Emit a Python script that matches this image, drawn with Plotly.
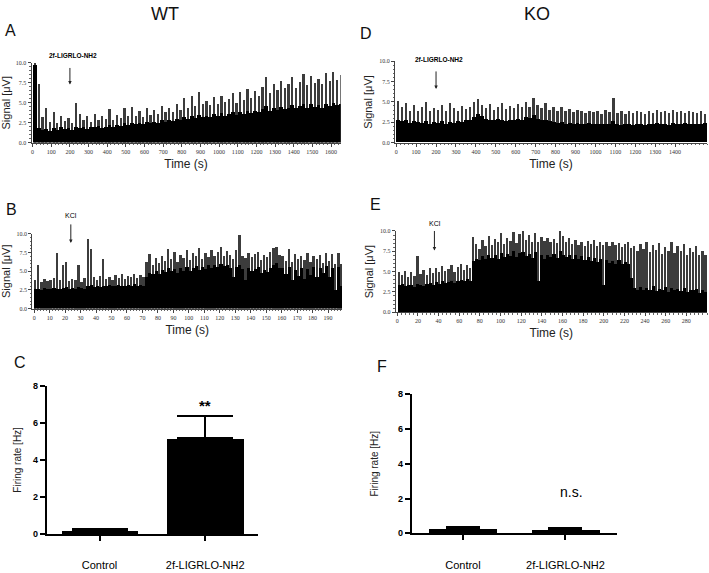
import plotly.graph_objects as go

W, H = 709, 573

# ---------------- data ----------------
# Panel A (WT, 2f-LIGRLO-NH2), 20 s bins
A_bin = 20
A_peak = [10.0, 7.3,
          3.2, 4.3, 2.6, 3.9, 2.4, 3.4, 2.7, 3.1, 2.5, 5.0,
          3.6, 2.8, 3.3, 2.6, 3.6, 2.9, 3.4, 3.0, 4.2, 2.9,
          3.5, 3.1, 4.4, 3.3, 4.5, 3.4, 4.0, 3.2, 4.3, 3.5,
          4.1, 3.6, 4.6, 3.8, 4.4, 3.9, 4.8, 4.1, 5.6, 4.3,
          5.8, 4.6, 6.3, 4.9, 5.2, 4.7, 5.7, 4.8, 5.9, 5.1,
          5.5, 6.2, 5.0, 6.4, 5.4, 6.7, 5.6, 6.5, 5.8, 7.0,
          8.3, 6.2, 7.4, 6.6, 7.8, 6.8, 7.3, 8.2, 6.9, 7.6,
          8.6, 7.2, 8.4, 7.5, 8.0, 7.4, 8.7, 7.7, 8.9, 7.9, 8.5]
A_body = [9.8, 1.8,
          1.6, 1.7, 1.5, 1.8, 1.6, 1.9, 1.7, 1.8, 1.6, 2.0,
          1.8, 1.9, 1.7, 2.0, 1.9, 2.1, 1.8, 2.0, 2.2, 2.0,
          2.2, 2.1, 2.4, 2.2, 2.5, 2.3, 2.4, 2.3, 2.6, 2.5,
          2.6, 2.5, 2.8, 2.6, 2.9, 2.7, 3.0, 2.8, 3.2, 3.0,
          3.3, 3.1, 3.5, 3.2, 3.3, 3.2, 3.6, 3.3, 3.7, 3.4,
          3.6, 3.8, 3.5, 3.9, 3.6, 4.0, 3.7, 4.0, 3.8, 4.2,
          4.6, 4.0, 4.4, 4.1, 4.5, 4.2, 4.4, 4.7, 4.3, 4.6,
          4.9, 4.4, 4.8, 4.5, 4.7, 4.4, 4.9, 4.6, 5.0, 4.7, 4.8]

# Panel D (KO, 2f-LIGRLO-NH2), 20 s bins
D_bin = 20
D_peak = [5.1, 4.4, 4.8, 3.9, 4.6, 3.8, 4.3, 4.9, 3.9, 4.2,
          4.0, 4.6, 3.8, 4.8, 4.2, 3.9, 4.5, 4.1, 4.3, 5.0,
          5.3, 4.6, 4.2, 4.7, 4.0, 4.4, 4.8, 4.1, 4.5, 4.2,
          4.7, 4.3, 4.9, 4.4, 5.4, 4.6, 4.2, 4.8, 4.0, 4.4,
          3.9, 4.3, 3.8, 4.1, 3.7, 4.0, 3.8, 3.6, 3.9, 3.7,
          3.8, 3.5, 4.0, 3.7, 5.4, 3.6, 3.9, 3.5, 3.8, 3.6,
          3.9, 3.7, 3.5, 3.8, 3.6, 4.0, 3.7, 3.9, 3.6, 4.0,
          3.7, 3.9, 3.6, 3.8, 3.7, 3.6, 3.8, 3.5]
D_body = [2.8, 2.6, 2.7, 2.4, 2.6, 2.5, 2.4, 2.6, 2.3, 2.5,
          2.4, 2.6, 2.3, 2.5, 2.4, 2.6, 2.5, 2.7, 2.8, 3.1,
          3.5, 3.2, 2.9, 2.8, 2.7, 2.9, 2.8, 2.6, 2.8, 2.7,
          2.9, 2.8, 3.1, 3.0, 3.3, 2.9, 2.7, 2.8, 2.6, 2.5,
          2.4, 2.5, 2.3, 2.4, 2.2, 2.4, 2.3, 2.2, 2.4, 2.3,
          2.2, 2.3, 2.2, 2.3, 2.6, 2.2, 2.1, 2.3, 2.2, 2.1,
          2.3, 2.2, 2.1, 2.3, 2.2, 2.4, 2.2, 2.3, 2.1, 2.4,
          2.3, 2.2, 2.4, 2.3, 2.2, 2.3, 2.2, 2.4]

# Panel B (WT, KCl), 2 s bins
B_bin = 2
B_peak = [3.9, 5.8, 3.6, 4.0, 3.7, 3.8, 4.1, 7.5, 3.9, 5.8,
          6.3, 3.7, 4.0, 3.8, 5.9, 3.6, 4.1, 9.3, 8.0, 4.2,
          3.9, 4.4, 6.6, 4.0, 4.3, 3.8, 4.5, 4.1, 4.6, 4.0,
          4.4, 4.2, 4.7, 4.1, 4.5, 4.3, 6.2, 7.3, 5.9, 6.8,
          6.1, 7.0, 6.4, 8.0, 6.6, 7.6, 6.2, 7.2, 6.8, 7.9,
          6.5, 7.4, 7.0, 8.1, 6.7, 7.5, 6.9, 7.8, 7.1, 7.6,
          8.3, 7.0, 7.7, 7.2, 6.6, 7.9, 9.9, 7.1, 6.8, 7.4,
          6.9, 7.3, 7.6, 6.5, 7.2, 6.9, 7.6, 8.1, 8.3, 7.2,
          7.0, 6.4, 8.0, 6.2, 7.3, 6.6, 7.1, 6.5, 7.4, 6.3,
          7.0, 6.6, 7.2, 6.1, 7.5, 6.4, 7.3, 6.0, 7.4, 6.0]
B_body = [2.6, 2.7, 2.5, 2.8, 2.6, 2.7, 2.8, 2.6, 2.7, 2.8,
          2.9, 2.7, 2.8, 2.7, 2.9, 2.8, 2.7, 3.0, 3.2, 2.9,
          3.0, 2.9, 3.1, 3.0, 3.2, 3.0, 3.1, 3.2, 3.0, 3.1,
          3.2, 3.0, 3.3, 3.1, 3.2, 3.0, 4.3, 4.8, 4.6, 5.0,
          4.7, 5.2, 4.9, 5.4, 5.0, 5.3, 4.8, 5.5, 5.1, 5.6,
          5.0, 5.4, 5.7, 5.2, 5.6, 5.3, 5.8, 5.5, 5.9, 5.6,
          6.0, 5.7, 5.9, 5.4, 4.2, 5.6, 5.8, 5.3, 3.8, 5.5,
          5.0, 5.3, 5.6, 4.8, 5.2, 4.9, 5.4, 5.9, 6.1, 5.5,
          5.4, 4.6, 5.6, 3.9, 5.2, 4.4, 5.5, 4.0, 5.3, 4.5,
          5.6, 4.2, 5.5, 4.8, 5.7, 4.3, 5.4, 2.5, 5.6, 3.0]

# Panel E (KO, KCl), 3 s bins
E_bin = 3
E_peak = [5.0, 4.6, 5.1, 4.4, 4.9, 4.5, 6.9, 4.7, 5.2, 4.6,
          5.4, 4.8, 5.5, 4.9, 5.7, 5.1, 5.3, 5.8, 5.0, 5.6,
          5.9, 5.2, 5.8, 5.4, 9.3, 8.4, 7.8, 8.9, 8.1, 9.4,
          8.3, 9.0, 8.6, 9.7, 8.4, 9.2, 8.8, 9.9, 8.5, 9.6,
          10.0, 8.9, 9.5, 8.6, 9.8, 8.7, 9.3, 8.8, 9.1, 8.6,
          9.0, 8.5, 10.0, 9.4, 8.6, 9.1, 8.4, 8.9, 8.3, 8.7,
          8.2, 8.8, 8.4, 8.9, 8.1, 8.6, 8.3, 8.7, 8.2, 8.6,
          8.3, 8.5, 8.0, 8.4, 8.6, 7.9, 8.2, 7.6, 8.4, 7.8,
          8.6, 7.4, 8.3, 7.7, 8.5, 7.2, 8.0, 7.5, 8.6, 7.3,
          8.1, 7.6, 8.4, 7.1, 7.9, 7.4, 8.2, 7.0, 7.6, 7.1]
E_body = [3.3, 3.5, 3.2, 3.4, 3.3, 3.1, 3.5, 3.4, 3.2, 3.5,
          3.6, 3.4, 3.7, 3.5, 3.8, 3.6, 3.7, 3.9, 3.6, 3.8,
          4.0, 3.8, 4.1, 3.9, 6.3, 6.6, 6.4, 6.9, 6.5, 7.1,
          6.7, 7.0, 6.6, 7.3, 6.8, 7.2, 6.9, 7.5, 6.8, 7.3,
          7.4, 6.9, 7.2, 6.7, 7.4, 3.8, 7.1, 6.6, 7.0, 6.8,
          7.2, 6.7, 7.5, 7.1, 6.8, 7.0, 6.6, 7.1, 6.5, 6.9,
          6.4, 6.8, 6.3, 6.7, 6.2, 6.5, 3.4, 6.4, 6.1, 6.3,
          6.0, 6.4, 5.9, 6.2, 6.0, 4.2, 3.0, 2.8, 3.1, 2.7,
          3.0, 2.8, 3.2, 2.6, 2.9, 2.7, 3.1, 2.5, 3.0, 2.8,
          2.9, 2.6, 3.0, 2.5, 2.8, 2.7, 2.9, 2.4, 2.8, 2.5]

# Bar charts (firing rate)
groups = ["Control", "2f-LIGRLO-NH2"]
C_rate = [0.2, 5.15]
C_sem = [0.05, 1.2]
F_rate = [0.25, 0.2]
F_sem = [0.1, 0.08]

# ---------------- layout helpers ----------------
def dx(a, b):
    return [a / W, b / W]

def dy(top, bottom):
    return [1 - bottom / H, 1 - top / H]

fig = go.Figure()

def trace_panel(n, bin_w, peaks, bodies):
    t = [bin_w * (i + 0.5) for i in range(len(peaks))]
    xa, ya = ("x" if n == 1 else f"x{n}"), ("y" if n == 1 else f"y{n}")
    fig.add_trace(go.Bar(x=t, y=peaks, width=bin_w * 0.6, marker=dict(color="#3c3c3c", line=dict(width=0)),
                         xaxis=xa, yaxis=ya, showlegend=False, hoverinfo="skip"))
    fig.add_trace(go.Bar(x=t[:len(bodies)], y=bodies, width=bin_w, marker=dict(color="black", line=dict(width=0)),
                         xaxis=xa, yaxis=ya, showlegend=False, hoverinfo="skip"))

trace_panel(1, A_bin, A_peak, A_body)
trace_panel(2, B_bin, B_peak, B_body)
trace_panel(3, D_bin, D_peak, D_body)
trace_panel(4, E_bin, E_peak, E_body)

fig.add_trace(go.Bar(x=groups, y=C_rate, width=0.72, marker=dict(color="black", line=dict(width=0)),
                     error_y=dict(type="data", array=C_sem, arrayminus=[0, 0], symmetric=False,
                                  color="black", thickness=2.5, width=28),
                     xaxis="x5", yaxis="y5", showlegend=False))
fig.add_trace(go.Bar(x=groups, y=F_rate, width=0.66, marker=dict(color="black", line=dict(width=0)),
                     error_y=dict(type="data", array=F_sem, arrayminus=[0, 0], symmetric=False,
                                  color="black", thickness=2.5, width=17),
                     xaxis="x6", yaxis="y6", showlegend=False))

serif = "Liberation Serif, Times New Roman, serif"
sans = "Liberation Sans, Arial, sans-serif"

def trace_axes(n, xdom, ydom, xrange_, xminor, xtickvals):
    xs = "xaxis" if n == 1 else f"xaxis{n}"
    ys = "yaxis" if n == 1 else f"yaxis{n}"
    ya = "y" if n == 1 else f"y{n}"
    xa = "x" if n == 1 else f"x{n}"
    fig.layout[xs] = dict(domain=xdom, anchor=ya, range=xrange_, showline=True, linecolor="#444", linewidth=1,
                          ticks="outside", ticklen=3, tickwidth=1, tickcolor="#444",
                          tickvals=xtickvals, ticktext=[str(v) for v in xtickvals],
                          tickfont=dict(family=serif, size=6, color="#333"),
                          minor=dict(ticks="outside", ticklen=1.5, dtick=xminor, tickcolor="#666"),
                          showgrid=False, zeroline=False,
                          title=dict(text="Time (s)", font=dict(family=sans, size=12, color="#222"), standoff=5))
    fig.layout[ys] = dict(domain=ydom, anchor=xa, range=[0, 10], showline=True, linecolor="#444", linewidth=1,
                          ticks="outside", ticklen=3, tickwidth=1, tickcolor="#444",
                          tickvals=[0, 2.5, 5, 7.5, 10], ticktext=["0.0", "2.5", "5.0", "7.5", "10.0"],
                          tickfont=dict(family=serif, size=6, color="#333"),
                          minor=dict(ticks="outside", ticklen=1.5, dtick=0.5, tickcolor="#666"),
                          showgrid=False, zeroline=False,
                          title=dict(text="Signal [μV]", font=dict(family=sans, size=11, color="#222"), standoff=4))

trace_axes(1, dx(31.5, 340.7), dy(59, 140), [-6, 1652], 20, list(range(0, 1601, 100)))
trace_axes(2, dx(32.3, 342), dy(233, 309), [-1.2, 199], 2, list(range(0, 191, 10)))
trace_axes(3, dx(395, 707), dy(57.3, 140), [-6, 1560], 20, list(range(0, 1401, 100)))
trace_axes(4, dx(395.7, 707), dy(230, 312.7), [-1.5, 300], 4, list(range(0, 281, 20)))

def bar_axes(n, xdom, ydom, standoff):
    fig.layout[f"xaxis{n}"] = dict(domain=xdom, anchor=f"y{n}", type="category", range=[-0.5, 1.5],
                                   showline=True, linecolor="black", linewidth=2,
                                   ticks="outside", ticklen=5, tickwidth=2, tickcolor="black",
                                   tickfont=dict(family=sans, size=11, color="black"), ticklabelstandoff=15,
                                   showgrid=False, zeroline=False)
    fig.layout[f"yaxis{n}"] = dict(domain=ydom, anchor=f"x{n}", range=[0, 8], showline=True, linecolor="black",
                                   linewidth=2, ticks="outside", ticklen=5, tickwidth=2, tickcolor="black",
                                   tickvals=[0, 2, 4, 6, 8], ticktext=["<b>0</b>", "<b>2</b>", "<b>4</b>", "<b>6</b>", "<b>8</b>"],
                                   tickfont=dict(family=sans, size=9, color="black"),
                                   showgrid=False, zeroline=False,
                                   title=dict(text="Firing rate [Hz]", font=dict(family=sans, size=10, color="#222"),
                                              standoff=standoff))

bar_axes(5, dx(46.7, 258), dy(387.3, 538.7), 9)
bar_axes(6, dx(411.7, 616.7), dy(396, 537.7), 17)

ann = []
def txt(x, y, s, size, bold=False, xref="paper", yref="paper", family=sans, color="black"):
    ann.append(dict(x=x, y=y, xref=xref, yref=yref, text=f"<b>{s}</b>" if bold else s, showarrow=False,
                    font=dict(family=family, size=size, color=color), xanchor="center", yanchor="middle"))

def P(xp, yp):
    return xp / W, 1 - yp / H

for s, (xp, yp), size in [("WT", (165, 9), 18), ("KO", (537, 9), 18),
                          ("A", (10, 26), 16), ("B", (11, 208), 16), ("C", (20, 364), 16),
                          ("D", (366, 29), 16), ("E", (376, 203), 16), ("F", (382, 368), 16)]:
    x, y = P(xp, yp)
    txt(x, y, s, size, color="#111")

x, y = P(73, 51); txt(x, y, "2f-LIGRLO-NH2", 6.5, bold=True)
x, y = P(439, 55); txt(x, y, "2f-LIGRLO-NH2", 6.5, bold=True)
x, y = P(71, 214); txt(x, y, "KCl", 7)
x, y = P(435, 222); txt(x, y, "KCl", 7)

def arrow(xd, yd, xa, ya, ay):
    ann.append(dict(x=xd, y=yd, xref=xa, yref=ya, ax=0, ay=ay, text="", showarrow=True,
                    arrowhead=2, arrowsize=0.7, arrowwidth=1, arrowcolor="#222"))

arrow(200, 7.3, "x", "y", -18)
arrow(200, 6.6, "x3", "y3", -19)
arrow(23.7, 8.8, "x2", "y2", -20)
arrow(36, 7.6, "x4", "y4", -21)

txt("2f-LIGRLO-NH2", 6.9, "**", 15, bold=True, xref="x5", yref="y5")
ann.append(dict(x="2f-LIGRLO-NH2", y=2.4, xref="x6", yref="y6", text="n.s.", showarrow=False, xshift=6,
                font=dict(family=sans, size=14, color="black")))

fig.update_layout(width=W, height=H, margin=dict(l=0, r=0, t=0, b=0), paper_bgcolor="white",
                  plot_bgcolor="white", barmode="overlay", bargap=0, annotations=ann, showlegend=False)

fig.write_html("out.html", config={"displayModeBar": False},
               post_script="document.body.style.margin='0px';")
